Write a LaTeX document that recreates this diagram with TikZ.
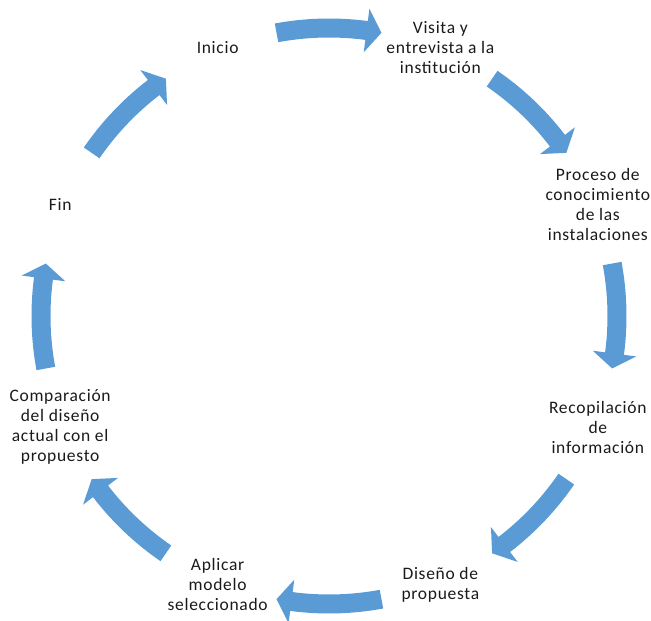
\documentclass[tikz,border=0pt]{standalone}
\usepackage{fontspec}
\setmainfont{Carlito}[LetterSpace=4]
\definecolor{cycleblue}{HTML}{5B9BD5}
\definecolor{stagetext}{HTML}{1A1A1A}
\begin{document}
\begin{tikzpicture}[x=1pt,y=1pt,
  stage/.style={align=center,text=stagetext,
    font=\fontsize{17.5}{20}\selectfont,inner sep=0pt},
  % curved block arrow centred on 90 degrees, running clockwise
  cycarrow/.pic={
    \fill[cycleblue]
      (100.5:278.5) arc[start angle=100.5,end angle=82.5,radius=278.5]
      -- (82.5:266) -- (79.5:288) -- (82.5:310) -- (82.5:297.5)
      arc[start angle=82.5,end angle=100.5,radius=297.5] -- cycle;
  }]
\useasboundingbox (-329,-305) rectangle (322,316);

% stages of the cycle
\node[stage] (inicio)  at (112.5:291) {Inicio};
\node[stage] (visita)  at (67.5:291)  {Visita y\\entrevista a la\\institución};
\node[stage] (proceso) at (22.5:291)  {Proceso de\\conocimiento\\de las\\instalaciones};
\node[stage] (recop)   at (-22.5:291) {Recopilación\\de\\información};
\node[stage] (diseno)  at (-67.5:291) {Diseño de\\propuesta};
\node[stage] (aplicar) at (-112.5:291){Aplicar\\modelo\\seleccionado};
\node[stage] (compar)  at (-157.5:291){Comparación\\del diseño\\actual con el\\propuesto};
\node[stage] (fin)     at (157.5:291) {Fin};

% arrows between consecutive stages
\foreach \k in {0,...,7}
  \pic[rotate=-45*\k] (arr\k) at (0,0) {cycarrow};
\end{tikzpicture}
\end{document}
